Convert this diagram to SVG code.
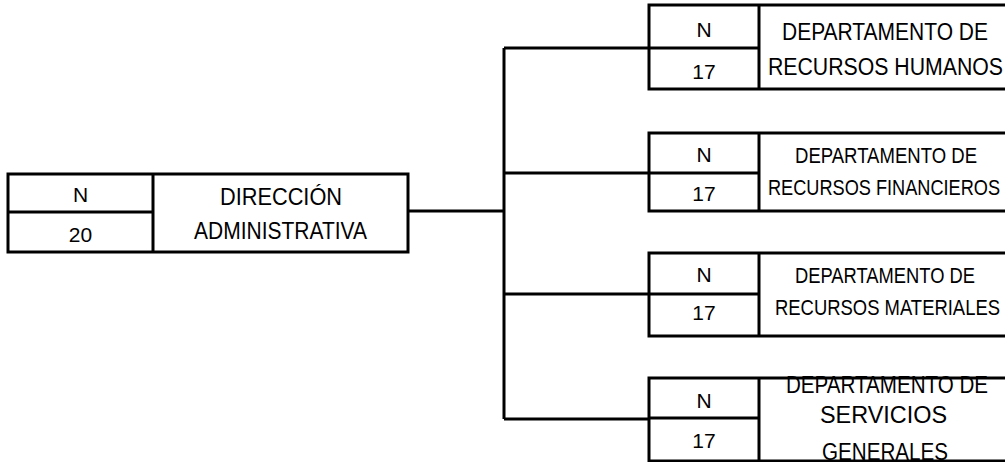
<svg xmlns="http://www.w3.org/2000/svg" width="1005" height="462" viewBox="0 0 1005 462">
<style>
  .box { fill: none; stroke: #000; stroke-width: 3; }
  .ln { fill: none; stroke: #000; stroke-width: 3; }
  text { font-family: "Liberation Sans", Arial, sans-serif; fill: #000; text-anchor: middle; }
  .n { font-size: 21px; }
  .t24 { font-size: 24.5px; }
  .t23 { font-size: 23px; }
  .t21 { font-size: 21.5px; }
</style>
<rect width="1005" height="462" fill="#fff"/>
<g id="connectors">
  <path class="ln" d="M408 211 H504 M504 48 V419 M504 48 H649 M504 173 H649 M504 294 H649 M504 419 H649"/>
</g>
<g id="node-direccion">
  <rect class="box" x="8" y="174" width="400" height="78"/>
  <path class="ln" d="M8 212 H153 M153 174 V252"/>
  <text class="n" x="80.5" y="202">N</text>
  <text class="n" x="80.5" y="242">20</text>
  <text class="t24" x="281" y="205" textLength="122" lengthAdjust="spacingAndGlyphs">DIRECCIÓN</text>
  <text class="t24" x="280.5" y="239" textLength="173" lengthAdjust="spacingAndGlyphs">ADMINISTRATIVA</text>
</g>
<g id="node-rh">
  <path class="ln" d="M1010 5 H649 V89 H1010 M649 48 H759 M759 5 V89"/>
  <text class="n" x="704" y="37">N</text>
  <text class="n" x="704" y="79">17</text>
  <text class="t24" x="885" y="40" textLength="206" lengthAdjust="spacingAndGlyphs">DEPARTAMENTO DE</text>
  <text class="t24" x="885.5" y="75" textLength="235" lengthAdjust="spacingAndGlyphs">RECURSOS HUMANOS</text>
</g>
<g id="node-rf">
  <path class="ln" d="M1010 133 H649 V211 H1010 M649 173 H759 M759 133 V211"/>
  <text class="n" x="704" y="162">N</text>
  <text class="n" x="704" y="201">17</text>
  <text class="t21" x="886" y="163" textLength="182" lengthAdjust="spacingAndGlyphs">DEPARTAMENTO DE</text>
  <text class="t21" x="884" y="195" textLength="232" lengthAdjust="spacingAndGlyphs">RECURSOS FINANCIEROS</text>
</g>
<g id="node-rm">
  <path class="ln" d="M1010 253 H649 V336 H1010 M649 294 H759 M759 253 V336"/>
  <text class="n" x="704" y="282">N</text>
  <text class="n" x="704" y="320">17</text>
  <text class="t21" x="885" y="283" textLength="180" lengthAdjust="spacingAndGlyphs">DEPARTAMENTO DE</text>
  <text class="t21" x="887.5" y="315" textLength="225" lengthAdjust="spacingAndGlyphs">RECURSOS MATERIALES</text>
</g>
<g id="node-sg">
  <text class="n" x="704" y="408">N</text>
  <text class="n" x="704" y="448">17</text>
  <text class="t23" x="887" y="393" textLength="202" lengthAdjust="spacingAndGlyphs">DEPARTAMENTO DE</text>
  <text class="t23" x="883.5" y="423" textLength="127" lengthAdjust="spacingAndGlyphs">SERVICIOS</text>
  <text class="t23" x="885" y="460" textLength="126" lengthAdjust="spacingAndGlyphs">GENERALES</text>
  <path class="ln" d="M1010 378 H649 V461 H1010 M649 418 H759 M759 378 V462"/>
</g>
</svg>
